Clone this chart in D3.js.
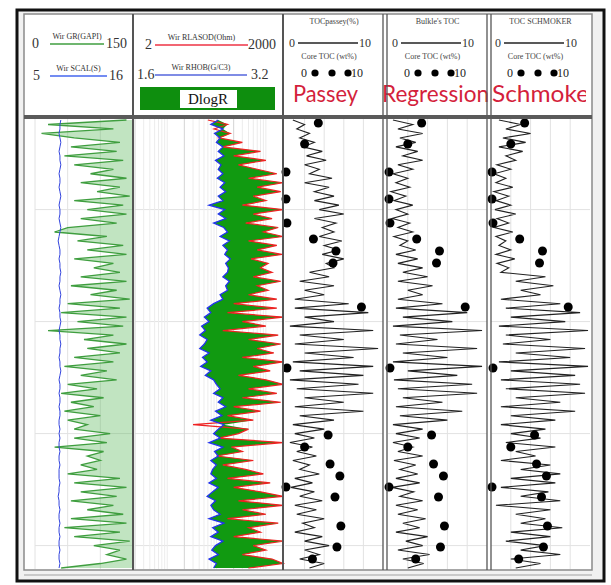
<!DOCTYPE html>
<html>
<head>
<meta charset="utf-8">
<script src="https://cdn.jsdelivr.net/npm/d3@7"></script>
<style>
  body { margin: 0; background: #fff; }
  svg text { font-family: "Liberation Serif", "DejaVu Serif", serif; }
  svg text.title { font-family: Lato, "Open Sans", sans-serif; }
</style>
</head>
<body>
<div id="chart"></div>
<script>
// depth axis (m), one sample every 4 m
const depthTop = 2420, depthBase = 2820, depthStep = 4;
const depth = d3.range(depthTop, depthBase + 1, depthStep);

// track 1
const gr = [
  140, 20, 120, 10, 60, 130, 55, 125, 45, 135,
  60, 120, 85, 140, 70, 130, 95, 145, 60, 135,
  80, 140, 70, 125, 50, 30, 110, 65, 135, 80,
  140, 60, 120, 90, 130, 70, 140, 55, 125, 85,
  145, 50, 130, 40, 140, 65, 135, 20, 120, 75,
  140, 80, 130, 60, 120, 45, 110, 70, 125, 50,
  95, 40, 105, 55, 90, 45, 100, 50, 80, 60,
  115, 60, 110, 30, 105, 80, 100, 70, 95, 50,
  130, 60, 140, 70, 125, 55, 120, 80, 135, 55,
  140, 45, 130, 60, 145, 90, 130, 110, 140, 100,
  40
];
const scal = [
  7.9, 7.8, 7.8, 7.7, 7.8, 7.9, 7.8, 7.7, 7.8, 7.8,
  7.9, 7.8, 7.7, 7.8, 7.8, 7.7, 7.8, 7.9, 7.8, 7.7,
  7.8, 7.8, 7.7, 7.8, 7.9, 7.8, 7.7, 7.6, 7.7, 7.8,
  7.8, 7.7, 7.8, 7.8, 7.9, 7.8, 7.8, 7.7, 7.8, 7.9,
  7.8, 7.8, 7.7, 7.8, 7.8, 7.9, 7.8, 7.7, 7.8, 7.8,
  7.9, 7.8, 7.8, 7.7, 7.8, 7.8, 7.9, 7.8, 7.7, 7.8,
  7.8, 7.7, 7.8, 7.8, 7.7, 7.8, 7.8, 7.7, 7.7, 7.8,
  7.7, 7.8, 7.7, 7.7, 7.8, 7.7, 7.7, 7.8, 7.7, 7.7,
  7.7, 7.8, 7.7, 7.7, 7.6, 7.7, 7.7, 7.8, 7.7, 7.7,
  7.8, 7.7, 7.7, 7.8, 7.7, 7.7, 7.8, 7.7, 7.7, 7.8,
  7.7
];

// track 2
const rla = [
  60, 150, 80, 170, 100, 300, 120, 700, 200, 900,
  250, 600, 1500, 400, 2000, 600, 1800, 500, 900, 300,
  2000, 500, 1200, 350, 1600, 800, 2000, 400, 1500, 600,
  1900, 450, 1000, 700, 1200, 500, 1800, 600, 1000, 400,
  1500, 200, 1500, 150, 2000, 300, 900, 120, 1600, 400,
  1800, 600, 1300, 300, 2000, 500, 1100, 250, 900, 2000,
  400, 1500, 300, 1800, 200, 700, 150, 500, 30, 400,
  250, 100, 2000, 180, 300, 90, 500, 120, 350, 800,
  150, 1100, 200, 700, 2000, 250, 2000, 300, 900, 150,
  1600, 400, 700, 200, 2000, 500, 900, 300, 1200, 2000,
  400
];
const rhob = [
  2.50, 2.42, 2.55, 2.46, 2.52, 2.48, 2.55, 2.50, 2.56, 2.47,
  2.53, 2.50, 2.55, 2.49, 2.57, 2.52, 2.58, 2.50, 2.55, 2.40,
  2.57, 2.50, 2.58, 2.45, 2.56, 2.60, 2.52, 2.62, 2.55, 2.60,
  2.57, 2.63, 2.58, 2.61, 2.60, 2.55, 2.62, 2.58, 2.60, 2.52,
  2.55, 2.45, 2.38, 2.42, 2.35, 2.40, 2.32, 2.36, 2.30, 2.38,
  2.35, 2.30, 2.40, 2.33, 2.38, 2.31, 2.42, 2.36, 2.45, 2.48,
  2.52, 2.45, 2.55, 2.50, 2.58, 2.47, 2.54, 2.42, 2.56, 2.50,
  2.45, 2.52, 2.40, 2.55, 2.46, 2.50, 2.42, 2.48, 2.44, 2.42,
  2.48, 2.40, 2.50, 2.44, 2.38, 2.47, 2.42, 2.45, 2.52, 2.40,
  2.56, 2.44, 2.50, 2.42, 2.55, 2.47, 2.43, 2.50, 2.40, 2.48,
  2.45
];

// tracks 3-5: computed TOC (wt%)
const tocPassey = [
  0.8, 2.0, 1.2, 2.5, 1.5, 3.0, 1.8, 3.8, 2.2, 4.2,
  2.0, 3.5, 2.5, 4.8, 2.0, 4.5, 3.0, 5.0, 3.0, 5.5,
  3.5, 6.0, 3.0, 5.2, 3.8, 5.0, 3.5, 5.8, 4.0, 5.5,
  3.8, 6.0, 4.2, 5.0, 2.5, 4.5, 1.5, 5.0, 2.0, 4.0,
  1.0, 6.5, 1.0, 8.5, 2.0, 5.0, 0.5, 9.0, 1.5, 6.0,
  1.0, 9.5, 2.0, 7.0, 0.8, 9.0, 1.5, 8.0, 0.5, 7.5,
  1.2, 9.0, 2.0, 6.0, 1.0, 8.0, 1.5, 5.0, 0.8, 4.0,
  1.0, 3.0, 0.5, 2.8, 1.2, 3.2, 0.8, 2.5, 1.5, 3.5,
  1.0, 2.8, 0.6, 3.0, 1.5, 3.8, 1.0, 3.2, 1.2, 4.0,
  1.8, 3.0, 1.0, 3.8, 2.0, 4.5, 2.0, 3.5, 1.5, 4.0,
  2.5
];
const tocRegression = [
  0.5, 2.5, 1.0, 3.5, 1.2, 2.8, 0.8, 3.0, 1.5, 3.5,
  1.0, 2.5, 0.5, 2.0, 0.8, 2.2, 0.3, 1.8, 0.6, 2.5,
  0.8, 2.0, 0.4, 2.2, 1.0, 2.5, 0.6, 2.0, 1.2, 2.8,
  0.8, 3.0, 1.0, 3.5, 1.5, 4.0, 1.0, 4.5, 2.0, 3.5,
  1.0, 5.5, 0.8, 8.0, 1.5, 6.5, 0.5, 9.5, 1.2, 5.0,
  0.8, 9.0, 1.5, 6.0, 0.5, 9.5, 2.0, 7.0, 0.6, 8.5,
  1.0, 9.0, 1.5, 5.5, 0.8, 7.5, 1.2, 6.0, 0.5, 3.5,
  0.8, 3.2, 0.5, 2.5, 1.0, 3.5, 0.6, 2.8, 1.2, 3.0,
  0.8, 3.2, 0.4, 2.6, 1.2, 3.5, 0.8, 3.0, 1.0, 3.8,
  1.5, 3.2, 0.8, 4.0, 1.8, 3.5, 1.0, 4.2, 1.5, 3.6,
  2.0
];
const tocSchmoker = [
  0.8, 3.0, 1.5, 4.0, 1.2, 3.5, 0.8, 3.2, 1.5, 2.5,
  0.6, 2.0, 0.3, 1.5, 0.5, 2.2, 0.3, 1.8, 0.5, 2.0,
  0.4, 2.5, 0.6, 1.8, 0.3, 2.2, 0.5, 1.5, 0.8, 2.0,
  0.5, 2.4, 0.6, 1.8, 1.0, 5.5, 2.5, 6.3, 3.0, 5.0,
  1.0, 7.0, 1.5, 9.0, 2.0, 7.5, 0.8, 9.8, 1.5, 6.0,
  1.2, 9.5, 2.5, 8.0, 0.8, 9.8, 2.0, 8.5, 1.0, 9.0,
  1.5, 9.5, 2.5, 7.0, 1.0, 8.5, 2.0, 6.5, 1.0, 5.5,
  2.0, 5.0, 1.5, 6.5, 2.5, 4.5, 1.0, 6.0, 3.0, 7.0,
  2.0, 6.5, 1.0, 5.8, 3.0, 7.0, 0.5, 6.0, 2.5, 5.5,
  3.0, 7.2, 2.0, 6.0, 1.5, 5.5, 3.0, 7.0, 2.0, 5.0,
  2.5
];

// core TOC measurements
const coreDepth = [2422.7, 2441.4, 2466.4, 2490.5, 2512, 2526.3, 2537, 2547.7, 2587, 2641.4,
                   2701.3, 2712, 2727.1, 2737.9, 2747.7, 2756.6, 2782.5, 2801.3, 2812];
const coreToc = [3.4, 2.0, 0.1, 0.1, 0.2, 2.9, 5.2, 4.9, 7.8, 0.2,
                 4.4, 2.0, 4.6, 5.6, 0.1, 5.1, 5.7, 5.3, 2.8];

const gridDepths = [2500, 2600, 2700, 2800];

const width = 611, height = 585;
const svg = d3.select("#chart").append("svg")
  .attr("width", width).attr("height", height);

/* frame */
svg.append("rect").attr("x", 17).attr("y", 10).attr("width", 587).attr("height", 571)
  .attr("fill", "#f1f1f1").attr("stroke", "#111").attr("stroke-width", 3);
svg.append("rect").attr("x", 24).attr("y", 14).attr("width", 568).attr("height", 556)
  .attr("fill", "#fff").attr("stroke", "#8a8a8a").attr("stroke-width", 1.5);
svg.append("line").attr("x1", 24).attr("x2", 592).attr("y1", 575).attr("y2", 575)
  .attr("stroke", "#bbb").attr("stroke-width", 1.5);

const y = d3.scaleLinear().domain([depthTop, depthBase]).range([120, 568]);

const defs = svg.append("defs");
defs.append("clipPath").attr("id", "body").append("rect")
  .attr("x", 24).attr("y", 119).attr("width", 566).attr("height", 450);
defs.append("clipPath").attr("id", "head").append("rect")
  .attr("x", 24).attr("y", 14).attr("width", 562).attr("height", 102);

const body = svg.append("g").attr("clip-path", "url(#body)");
const head = svg.append("g").attr("clip-path", "url(#head)");

/* scales */
const grX = d3.scaleLinear().domain([0, 150]).range([35, 133]);
const scalX = d3.scaleLinear().domain([5, 16]).range([35, 133]);
const rlaX = d3.scaleLog().domain([2, 2000]).range([135, 283]).clamp(true);
const rhobX = d3.scaleLinear().domain([1.6, 3.2]).range([135, 283]);
const tocTracks = [
  { name: "Passey", label: "TOCpassey(%)", values: tocPassey, tx: 293, len: 65,
    x: d3.scaleLinear().domain([0, 10]).range([285, 383]) },
  { name: "Regression", label: "Bulkle's TOC", values: tocRegression, tx: 382, len: 107,
    x: d3.scaleLinear().domain([0, 10]).range([388, 487]) },
  { name: "Schmoker", label: "TOC SCHMOKER", values: tocSchmoker, tx: 492, len: 106,
    x: d3.scaleLinear().domain([0, 10]).range([491, 590]) }
];

/* grids */
const grid = body.append("g").attr("stroke", "#e2e2e2").attr("stroke-width", 1);
[[35, 133], [135, 283]].concat(tocTracks.map(t => t.x.range())).forEach(r => {
  gridDepths.forEach(d => grid.append("line")
    .attr("x1", r[0]).attr("x2", r[1]).attr("y1", y(d)).attr("y2", y(d)));
});
grX.ticks(3).forEach(v => grid.append("line")
  .attr("x1", grX(v)).attr("x2", grX(v)).attr("y1", 119).attr("y2", 569));
[2, 3, 4, 5, 6, 7, 8, 9].forEach(m => [1, 10, 100].forEach(dec => {
  const v = m * dec;
  if (v < 2 || v > 2000) return;
  grid.append("line").attr("stroke", m === 2 ? "#d4d4d4" : "#ececec")
    .attr("x1", rlaX(v)).attr("x2", rlaX(v)).attr("y1", 119).attr("y2", 569);
}));
tocTracks.forEach(t => [2, 4, 6, 8].forEach(v => grid.append("line")
  .attr("x1", t.x(v)).attr("x2", t.x(v)).attr("y1", 119).attr("y2", 569)));

/* track 1: GR + SCAL */
const grPts = d3.zip(depth, gr);
body.append("path").datum(grPts)
  .attr("d", d3.area().y(d => y(d[0])).x0(d => grX(d[1])).x1(grX(150)))
  .attr("fill", "#5cb85c").attr("fill-opacity", 0.38);
body.append("path").datum(grPts)
  .attr("d", d3.line().x(d => grX(d[1])).y(d => y(d[0])))
  .attr("fill", "none").attr("stroke", "#3f9e3f").attr("stroke-width", 1.3);
body.append("path").datum(d3.zip(depth, scal))
  .attr("d", d3.line().x(d => scalX(d[1])).y(d => y(d[0])))
  .attr("fill", "none").attr("stroke", "#3344dd").attr("stroke-width", 1);

/* track 2: DlogR overlay */
const overlay = depth.map((d, i) => ({ d: d, r: rla[i], p: rhob[i] }));
body.append("path").datum(overlay)
  .attr("d", d3.area()
    .y(o => y(o.d))
    .x0(o => rhobX(o.p))
    .x1(o => Math.max(rhobX(o.p), rlaX(o.r))))
  .attr("fill", "#119a11");
body.append("path").datum(overlay)
  .attr("d", d3.line().x(o => rlaX(o.r)).y(o => y(o.d)))
  .attr("fill", "none").attr("stroke", "#ee2222").attr("stroke-width", 1.2);
body.append("path").datum(overlay)
  .attr("d", d3.line().x(o => rhobX(o.p)).y(o => y(o.d)))
  .attr("fill", "none").attr("stroke", "#2233ee").attr("stroke-width", 1.3);

/* tracks 3-5: TOC curves and core points */
tocTracks.forEach(t => {
  body.append("path").datum(d3.zip(depth, t.values))
    .attr("d", d3.line().x(d => t.x(d[1])).y(d => y(d[0])))
    .attr("fill", "none").attr("stroke", "#222").attr("stroke-width", 1.1);
  body.append("g").selectAll("circle")
    .data(d3.zip(coreDepth, coreToc))
    .join("circle")
    .attr("cx", d => t.x(d[1])).attr("cy", d => y(d[0])).attr("r", 4.5)
    .attr("fill", "#000");
});

/* track dividers */
const divider = svg.append("g").attr("stroke", "#555");
[[133, 2], [283, 2], [383, 1.3], [387, 1.3], [487, 1.3], [491, 1.3]].forEach(([x, w]) =>
  divider.append("line").attr("x1", x).attr("x2", x).attr("y1", 14).attr("y2", 570)
    .attr("stroke-width", w));
svg.append("line").attr("x1", 24).attr("x2", 592).attr("y1", 117).attr("y2", 117)
  .attr("stroke", "#5a5a5a").attr("stroke-width", 4);

/* headers */
function scaleLegend(x1, x2, yy, color, name, lo, hi, loX, hiX) {
  head.append("line").attr("x1", x1).attr("x2", x2).attr("y1", yy).attr("y2", yy)
    .attr("stroke", color).attr("stroke-width", 1.5);
  head.append("text").attr("x", (x1 + x2) / 2).attr("y", yy - 5)
    .attr("text-anchor", "middle").attr("font-size", 8).attr("fill", "#333").text(name);
  head.append("text").attr("x", loX).attr("y", yy + 4).attr("font-size", 14).attr("fill", "#333").text(lo);
  head.append("text").attr("x", hiX).attr("y", yy + 4).attr("font-size", 14).attr("fill", "#333").text(hi);
}
scaleLegend(50, 104, 44, "#3f9e3f", "Wir GR(GAPI)", "0", "150", 32, 106);
scaleLegend(50, 107, 76, "#4466ee", "Wir SCAL(S)", "5", "16", 33, 109);
scaleLegend(155, 248, 45, "#ee3344", "Wir RLASOD(Ohm)", "2", "2000", 145, 248);
scaleLegend(155, 247, 75, "#5566dd", "Wir RHOB(G/C3)", "1.6", "3.2", 137, 251);

head.append("rect").attr("x", 140).attr("y", 87).attr("width", 135).attr("height", 23).attr("fill", "#0e8e0e");
head.append("rect").attr("x", 180).attr("y", 90).attr("width", 57).attr("height", 18).attr("fill", "#fff");
head.append("text").attr("x", 208).attr("y", 104).attr("text-anchor", "middle")
  .attr("font-size", 15).attr("fill", "#111").text("DlogR");

tocTracks.forEach(t => {
  const [a, b] = t.x.range();
  const cx = (a + b) / 2;
  head.append("text").attr("x", cx).attr("y", 24).attr("text-anchor", "middle")
    .attr("font-size", 8).attr("fill", "#444").text(t.label);
  head.append("line").attr("x1", a + 13).attr("x2", a + 73).attr("y1", 43).attr("y2", 43)
    .attr("stroke", "#222").attr("stroke-width", 1.3);
  head.append("text").attr("x", a + 4).attr("y", 47).attr("font-size", 12).attr("fill", "#333").text("0");
  head.append("text").attr("x", a + 74).attr("y", 47).attr("font-size", 12).attr("fill", "#333").text("10");
  head.append("text").attr("x", cx - 5).attr("y", 59).attr("text-anchor", "middle")
    .attr("font-size", 8).attr("fill", "#444").text("Core TOC (wt%)");
  head.append("text").attr("x", a + 16).attr("y", 77).attr("font-size", 12).attr("fill", "#222").text("0");
  [30, 47, 63].forEach(o => head.append("circle").attr("cx", a + o).attr("cy", 73).attr("r", 3.6).attr("fill", "#000"));
  head.append("text").attr("x", a + 66).attr("y", 77).attr("font-size", 12).attr("fill", "#222").text("10");
  head.append("text").attr("class", "title")
    .attr("x", t.tx).attr("y", 102)
    .attr("font-size", 23).attr("textLength", t.len).attr("lengthAdjust", "spacingAndGlyphs")
    .attr("fill", "#d41f3c").text(t.name);
});
</script>
</body>
</html>
